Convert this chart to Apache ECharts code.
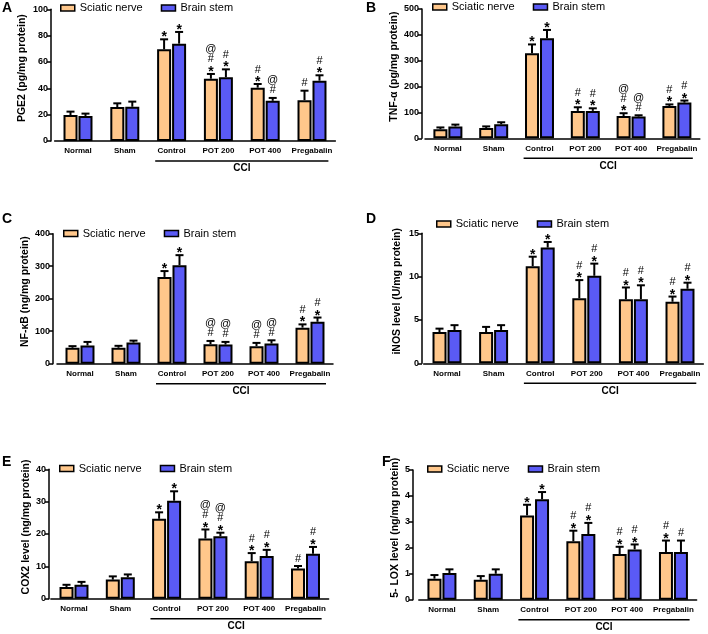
<!DOCTYPE html>
<html><head><meta charset="utf-8">
<script src="https://cdn.jsdelivr.net/npm/echarts@6/dist/echarts.min.js"></script>
<style>html,body{margin:0;padding:0;background:#fff}#c{width:708px;height:634px}</style>
</head><body><div id="c"></div><script>
// ---------- data ----------
const categories = ['Normal', 'Sham', 'Control', 'POT 200', 'POT 400', 'Pregabalin'];
const seriesNames = ['Sciatic nerve', 'Brain stem'];
const bracketLabel = 'CCI';

// A: PGE2
const pgeSci = [19.7, 25.8, 69.6, 47.3, 40.5, 31.0];
const pgeSciErr = [2.6, 2.8, 7.6, 3.6, 2.8, 7.2];
const pgeBs = [19.0, 26.0, 73.9, 48.4, 30.5, 45.8];
const pgeBsErr = [1.8, 3.9, 8.9, 6.0, 2.2, 4.1];
const pgeSciSig = ['', '', '*', '*#@', '*#', '#'];
const pgeBsSig = ['', '', '*', '*#', '#@', '*#'];

// B: TNF-a
const tnfSci = [35, 40, 329, 106, 86, 125];
const tnfSciErr = [7, 6, 34, 14, 11, 6];
const tnfBs = [46, 54, 387, 106, 84, 138];
const tnfBsErr = [7, 8, 32, 10, 5, 8];
const tnfSciSig = ['', '', '*', '*#', '*#@', '*#'];
const tnfBsSig = ['', '', '*', '*#', '#@', '*#'];

// C: NF-kB
const nfkSci = [49, 49, 267, 60, 54, 111];
const nfkSciErr = [5, 6, 18, 10, 10, 10];
const nfkBs = [56, 65, 303, 59, 62, 129];
const nfkBsErr = [11, 6, 31, 8, 10, 13];
const nfkSciSig = ['', '', '*', '#@', '#@', '*#'];
const nfkBsSig = ['', '', '*', '#@', '#@', '*#'];

// D: iNOS
const inosSci = [3.6, 3.6, 11.2, 7.5, 7.4, 7.1];
const inosSciErr = [0.4, 0.6, 1.1, 2.1, 1.35, 0.6];
const inosBs = [3.85, 3.85, 13.35, 10.1, 7.4, 8.6];
const inosBsErr = [0.55, 0.55, 0.65, 1.4, 1.6, 0.7];
const inosSciSig = ['', '', '*', '*#', '*#', '*#'];
const inosBsSig = ['', '', '*', '*#', '*#', '*#'];

// E: COX2
const coxSci = [3.6, 5.9, 24.7, 18.6, 11.6, 9.3];
const coxSciErr = [0.7, 1.0, 2.0, 2.8, 2.5, 0.8];
const coxBs = [4.3, 6.6, 30.3, 19.3, 13.2, 13.9];
const coxBsErr = [0.9, 0.9, 2.9, 1.1, 1.9, 2.1];
const coxSciSig = ['', '', '*', '*#@', '*#', '#'];
const coxBsSig = ['', '', '*', '*#@', '*#', '*#'];

// F: 5-LOX
const loxSci = [0.81, 0.77, 3.25, 2.25, 1.76, 1.84];
const loxSciErr = [0.14, 0.14, 0.41, 0.41, 0.28, 0.44];
const loxBs = [1.03, 1.0, 3.87, 2.53, 1.94, 1.84];
const loxBsErr = [0.14, 0.17, 0.28, 0.43, 0.19, 0.44];
const loxSciSig = ['', '', '*', '*#', '*#', '*#'];
const loxBsSig = ['', '', '*', '*#', '*#', '#'];

// y axis settings
const yTitles = ['PGE2 (pg/mg protein)', 'TNF-α (pg/mg protein)', 'NF-κB (ng/mg protein)',
  'iNOS level (U/mg protein)', 'COX2 level (ng/mg protein)', '5- LOX level (ng/mg protein)'];
const yMax = [100, 500, 400, 15, 40, 5];
const yInterval = [20, 100, 100, 5, 10, 1];
const panelLetters = ['A', 'B', 'C', 'D', 'E', 'F'];

const panels = [
  {sci: pgeSci, sciErr: pgeSciErr, bs: pgeBs, bsErr: pgeBsErr, sciSig: pgeSciSig, bsSig: pgeBsSig},
  {sci: tnfSci, sciErr: tnfSciErr, bs: tnfBs, bsErr: tnfBsErr, sciSig: tnfSciSig, bsSig: tnfBsSig},
  {sci: nfkSci, sciErr: nfkSciErr, bs: nfkBs, bsErr: nfkBsErr, sciSig: nfkSciSig, bsSig: nfkBsSig},
  {sci: inosSci, sciErr: inosSciErr, bs: inosBs, bsErr: inosBsErr, sciSig: inosSciSig, bsSig: inosBsSig},
  {sci: coxSci, sciErr: coxSciErr, bs: coxBs, bsErr: coxBsErr, sciSig: coxSciSig, bsSig: coxBsSig},
  {sci: loxSci, sciErr: loxSciErr, bs: loxBs, bsErr: loxBsErr, sciSig: loxSciSig, bsSig: loxBsSig}
];

// ---------- layout / style ----------
const layout = [
  {left: 54.6, top: 9.3, width: 280.8, height: 131.7, yOff: 3.6, nameGap: 23, legL: 60, legT: 2.5, letX: 2, letY: 2},
  {left: 425, top: 9, width: 274.8, height: 129.3, yOff: 3, nameGap: 20, legL: 432, legT: 1.5, letX: 366, letY: 2},
  {left: 57, top: 233.7, width: 276, height: 130, yOff: 4, nameGap: 19, legL: 63, legT: 228, letX: 2, letY: 213},
  {left: 423.7, top: 233.3, width: 279.6, height: 130, yOff: 1.7, nameGap: 19, legL: 436, legT: 218.5, letX: 366, letY: 213},
  {left: 50.85, top: 469.3, width: 277.8, height: 129.4, yOff: 1.85, nameGap: 16, legL: 59, legT: 463, letX: 2, letY: 456},
  {left: 418.8, top: 470, width: 277.8, height: 129.7, yOff: 5.8, nameGap: 8, legL: 427, legT: 463.5, letX: 382, letY: 456}
];
const ORANGE = '#FFC78B';
const BLUE = '#5A5AF5';
const FONT = 'Arial, "Liberation Sans", Helvetica, sans-serif';
const BAR_W = 14;
const HALF = 7.5;

function errSeries(i, vals, errs, sigs, offset) {
  return {
    type: 'custom', xAxisIndex: i, yAxisIndex: i, clip: false, silent: true, z: 5,
    data: vals.map((v, k) => [k, v, errs[k]]),
    renderItem: function (params, api) {
      const k = api.value(0), m = api.value(1), e = api.value(2);
      const base = api.coord([k, m]);
      const top = api.coord([k, m + e]);
      const cx = base[0] + offset;
      const ch = [
        {type: 'line', shape: {x1: cx, y1: base[1], x2: cx, y2: top[1]}, style: {stroke: '#000', lineWidth: 2}},
        {type: 'line', shape: {x1: cx - 4, y1: top[1], x2: cx + 4, y2: top[1]}, style: {stroke: '#000', lineWidth: 2}}
      ];
      const s = sigs[params.dataIndex] || '';
      let y = top[1];
      for (let j = 0; j < s.length; j++) {
        const c = s[j];
        if (j === 0) y -= (c === '*' ? 5 : 7.5); else y -= 9.5;
        const corr = c === '*' ? 3.2 : (c === '@' ? -0.5 : 0);
        ch.push({type: 'text', x: cx, y: y + corr,
          style: {text: c, font: (c === '*' ? 'bold 14px ' : '11px ') + FONT, fill: '#000',
            align: 'center', verticalAlign: 'middle', textAlign: 'center', textVerticalAlign: 'middle'}});
      }
      return {type: 'group', children: ch};
    }
  };
}

const option = {
  animation: false,
  textStyle: {fontFamily: FONT},
  title: panelLetters.map((t, i) => ({text: t, left: layout[i].letX, top: layout[i].letY - 1, padding: 0,
    textStyle: {fontSize: 14, fontWeight: 'bold', color: '#000', fontFamily: FONT}})),
  legend: layout.map(l => ({
    data: seriesNames, left: l.legL, top: l.legT, padding: 0, itemWidth: 14, itemHeight: 6,
    itemGap: 18, itemTextGap: 7, icon: 'rect', selectedMode: false,
    itemStyle: {borderColor: '#000', borderWidth: 1.5},
    textStyle: {fontSize: 11, color: '#000', fontFamily: FONT}
  })),
  grid: layout.map(l => ({left: l.left, top: l.top, width: l.width, height: l.height})),
  xAxis: layout.map((l, i) => ({
    gridIndex: i, type: 'category', data: categories,
    axisLine: {lineStyle: {color: '#000', width: 1.5}},
    axisTick: {show: false},
    axisLabel: {color: '#000', fontWeight: 'bold', fontSize: 8, margin: 6, interval: 0, fontFamily: FONT}
  })),
  yAxis: layout.map((l, i) => ({
    gridIndex: i, type: 'value', min: 0, max: yMax[i], interval: yInterval[i], offset: l.yOff,
    name: yTitles[i], nameLocation: 'middle', nameGap: l.nameGap,
    nameTextStyle: {fontWeight: 'bold', fontSize: 10.5, color: '#000', padding: [0, 0, 0, 14], fontFamily: FONT},
    axisLine: {show: true, lineStyle: {color: '#000', width: 1.5}},
    axisTick: {show: true, length: 4, lineStyle: {color: '#000', width: 1.5}},
    axisLabel: {color: '#000', fontWeight: 'bold', fontSize: 9, margin: 3, fontFamily: FONT},
    splitLine: {show: false}
  })),
  series: []
};

panels.forEach((p, i) => {
  option.series.push({type: 'bar', name: seriesNames[0], xAxisIndex: i, yAxisIndex: i, data: p.sci,
    barWidth: BAR_W, barGap: '7%', silent: true,
    itemStyle: {color: ORANGE, borderColor: '#000', borderWidth: 2}});
  option.series.push({type: 'bar', name: seriesNames[1], xAxisIndex: i, yAxisIndex: i, data: p.bs,
    barWidth: BAR_W, barGap: '7%', silent: true,
    itemStyle: {color: BLUE, borderColor: '#000', borderWidth: 2}});
  option.series.push(errSeries(i, p.sci, p.sciErr, p.sciSig, -HALF));
  option.series.push(errSeries(i, p.bs, p.bsErr, p.bsSig, HALF));
});

const chart = echarts.init(document.getElementById('c'), null, {renderer: 'canvas'});
chart.setOption(option);

// CCI bracket under Control..Pregabalin, positioned from the axes
const g = [];
layout.forEach((l, i) => {
  const band = l.width / categories.length;
  const x1 = chart.convertToPixel({xAxisIndex: i}, categories[2]) - band / 2 + 7;
  const x2 = chart.convertToPixel({xAxisIndex: i}, categories[5]) + band / 2 - 7;
  const y0 = chart.convertToPixel({yAxisIndex: i}, 0);
  g.push({type: 'line', shape: {x1: x1, y1: y0 + 20, x2: x2, y2: y0 + 20}, style: {stroke: '#000', lineWidth: 1.5}, silent: true});
  g.push({type: 'text', x: (x1 + x2) / 2, y: y0 + 27.5, silent: true,
    style: {text: bracketLabel, font: 'bold 10px ' + FONT, fill: '#000', align: 'center', verticalAlign: 'middle',
      textAlign: 'center', textVerticalAlign: 'middle'}});
});
chart.setOption({graphic: g});
</script></body></html>
